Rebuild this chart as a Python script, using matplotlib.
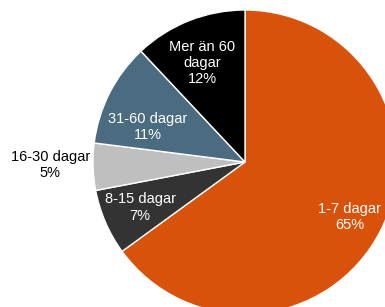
import matplotlib.pyplot as plt

plt.rcParams['font.family'] = ['Liberation Sans', 'DejaVu Sans']

# slices, clockwise from 12 o'clock
labels = ['1-7 dagar', '8-15 dagar', '16-30 dagar', '31-60 dagar', 'Mer än 60\ndagar']
shares = [65, 7, 5, 11, 12]
colors = ['#D9520B', '#333333', '#BFBFBF', '#4B6C80', '#000000']
text_colors = ['white', 'white', 'black', 'white', 'white']
# label centres in pie units (radius = 1)
label_pos = [(0.69, -0.36), (-0.69, -0.30), (-1.28, -0.02), (-0.64, 0.23), (-0.28, 0.65)]

fig = plt.figure(figsize=(3.85, 3.07), dpi=100)
ax = fig.add_axes([0, 0, 1, 1])

ax.pie(shares, colors=colors, startangle=90, counterclock=False, radius=1,
       wedgeprops=dict(edgecolor='white', linewidth=1))

for lab, val, (x, y), tc in zip(labels, shares, label_pos, text_colors):
    ax.text(x, y, lab + '\n' + str(val) + '%', ha='center', va='center',
            color=tc, fontsize=10.5, linespacing=1.2)

ax.set_xlim(-245 / 152, 140 / 152)
ax.set_ylim(-145 / 152, 162 / 152)
ax.set_aspect('equal')
ax.axis('off')

fig.savefig('out.png', dpi=100)
